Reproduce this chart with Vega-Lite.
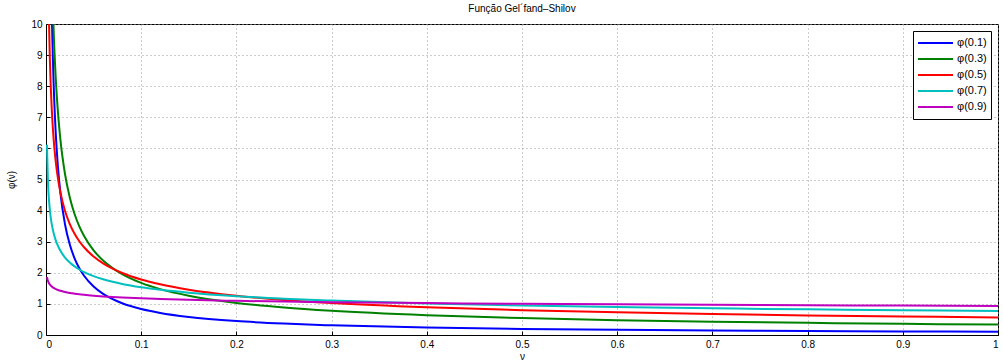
{
  "$schema": "https://vega.github.io/schema/vega-lite/v6.json",
  "autosize": "none",
  "width": 952,
  "height": 311,
  "padding": {"left": 46, "top": 24, "right": 5, "bottom": 28},
  "background": "white",
  "title": {"text": "Função Gel´fand–Shilov", "fontSize": 10, "fontWeight": "normal", "font": "Liberation Sans", "color": "black", "offset": 5},
  "config": {
    "view": {"stroke": "black", "strokeWidth": 1},
    "font": "Liberation Sans",
    "axis": {
      "domainColor": "black", "tickColor": "black", "labelColor": "black", "titleColor": "black",
      "labelFont": "Liberation Sans", "titleFont": "Liberation Sans",
      "labelFontSize": 10, "titleFontSize": 10, "titleFontWeight": "normal",
      "gridColor": "#999999", "gridDash": [1, 3], "gridOpacity": 1, "gridWidth": 1,
      "tickSize": -4, "labelPadding": 8
    }
  },
  "data": {"values": [
    {"nu": 0.001, "p1": 52.68, "p3": 42.09, "p5": 17.84, "p7": 6.119, "p9": 1.867},
    {"nu": 0.002, "p1": 28.23, "p3": 25.90, "p5": 12.62, "p7": 4.971, "p9": 1.742},
    {"nu": 0.003, "p1": 19.60, "p3": 19.50, "p5": 10.30, "p7": 4.401, "p9": 1.673},
    {"nu": 0.004, "p1": 15.13, "p3": 15.95, "p5": 8.921, "p7": 4.038, "p9": 1.625},
    {"nu": 0.005, "p1": 12.37, "p3": 13.64, "p5": 7.979, "p7": 3.776, "p9": 1.590},
    {"nu": 0.006, "p1": 10.50, "p3": 12.01, "p5": 7.284, "p7": 3.575, "p9": 1.561},
    {"nu": 0.008, "p1": 8.107, "p3": 9.817, "p5": 6.308, "p7": 3.279, "p9": 1.517},
    {"nu": 0.01, "p1": 6.632, "p3": 8.397, "p5": 5.642, "p7": 3.067, "p9": 1.483},
    {"nu": 0.012, "p1": 5.628, "p3": 7.391, "p5": 5.150, "p7": 2.904, "p9": 1.456},
    {"nu": 0.015, "p1": 4.604, "p3": 6.321, "p5": 4.607, "p7": 2.716, "p9": 1.424},
    {"nu": 0.02, "p1": 3.554, "p3": 5.168, "p5": 3.989, "p7": 2.491, "p9": 1.384},
    {"nu": 0.025, "p1": 2.907, "p3": 4.422, "p5": 3.568, "p7": 2.330, "p9": 1.353},
    {"nu": 0.03, "p1": 2.467, "p3": 3.891, "p5": 3.257, "p7": 2.206, "p9": 1.329},
    {"nu": 0.035, "p1": 2.148, "p3": 3.493, "p5": 3.016, "p7": 2.106, "p9": 1.308},
    {"nu": 0.04, "p1": 1.904, "p3": 3.182, "p5": 2.821, "p7": 2.024, "p9": 1.291},
    {"nu": 0.05, "p1": 1.558, "p3": 2.722, "p5": 2.523, "p7": 1.892, "p9": 1.263},
    {"nu": 0.06, "p1": 1.322, "p3": 2.395, "p5": 2.303, "p7": 1.792, "p9": 1.240},
    {"nu": 0.07, "p1": 1.151, "p3": 2.150, "p5": 2.132, "p7": 1.711, "p9": 1.221},
    {"nu": 0.08, "p1": 1.021, "p3": 1.959, "p5": 1.995, "p7": 1.643, "p9": 1.205},
    {"nu": 0.1, "p1": 0.835, "p3": 1.675, "p5": 1.784, "p7": 1.537, "p9": 1.178},
    {"nu": 0.12, "p1": 0.709, "p3": 1.475, "p5": 1.629, "p7": 1.455, "p9": 1.157},
    {"nu": 0.15, "p1": 0.580, "p3": 1.261, "p5": 1.457, "p7": 1.361, "p9": 1.131},
    {"nu": 0.2, "p1": 0.447, "p3": 1.031, "p5": 1.262, "p7": 1.249, "p9": 1.099},
    {"nu": 0.25, "p1": 0.366, "p3": 0.882, "p5": 1.128, "p7": 1.168, "p9": 1.075},
    {"nu": 0.3, "p1": 0.311, "p3": 0.776, "p5": 1.030, "p7": 1.106, "p9": 1.055},
    {"nu": 0.4, "p1": 0.240, "p3": 0.635, "p5": 0.892, "p7": 1.014, "p9": 1.026},
    {"nu": 0.5, "p1": 0.196, "p3": 0.543, "p5": 0.798, "p7": 0.948, "p9": 1.003},
    {"nu": 0.6, "p1": 0.166, "p3": 0.478, "p5": 0.728, "p7": 0.898, "p9": 0.985},
    {"nu": 0.7, "p1": 0.145, "p3": 0.429, "p5": 0.674, "p7": 0.857, "p9": 0.970},
    {"nu": 0.8, "p1": 0.1285, "p3": 0.391, "p5": 0.631, "p7": 0.824, "p9": 0.957},
    {"nu": 0.9, "p1": 0.1156, "p3": 0.360, "p5": 0.595, "p7": 0.795, "p9": 0.946},
    {"nu": 1.0, "p1": 0.1051, "p3": 0.334, "p5": 0.564, "p7": 0.770, "p9": 0.936}
  ]},
  "transform": [{"fold": ["p1", "p3", "p5", "p7", "p9"], "as": ["serie", "phi"]}],
  "mark": {"type": "line", "clip": true, "strokeWidth": 2, "interpolate": "monotone"},
  "encoding": {
    "x": {
      "field": "nu", "type": "quantitative",
      "scale": {"domain": [0, 1], "nice": false},
      "axis": {"values": [0, 0.1, 0.2, 0.3, 0.4, 0.5, 0.6, 0.7, 0.8, 0.9, 1], "format": "~g", "title": "ν", "titlePadding": 2}
    },
    "y": {
      "field": "phi", "type": "quantitative",
      "scale": {"domain": [0, 10], "nice": false},
      "axis": {"values": [0, 1, 2, 3, 4, 5, 6, 7, 8, 9, 10], "title": "φ(ν)", "titlePadding": 14}
    },
    "color": {
      "field": "serie", "type": "nominal",
      "scale": {"domain": ["p1", "p3", "p5", "p7", "p9"], "range": ["#0000ff", "#008000", "#ff0000", "#00bfbf", "#bf00bf"]},
      "legend": {
        "title": null, "orient": "none", "legendX": 867, "legendY": 7,
        "labelExpr": "'φ(0.' + substring(datum.label, 1) + ')'",
        "symbolType": "stroke", "symbolSize": 1225, "symbolStrokeWidth": 2,
        "labelFontSize": 11, "labelFont": "Liberation Sans", "labelColor": "black",
        "strokeColor": "black", "fillColor": "white", "padding": 4, "rowPadding": 0, "clipHeight": 16, "labelOffset": 3
      }
    }
  }
}
